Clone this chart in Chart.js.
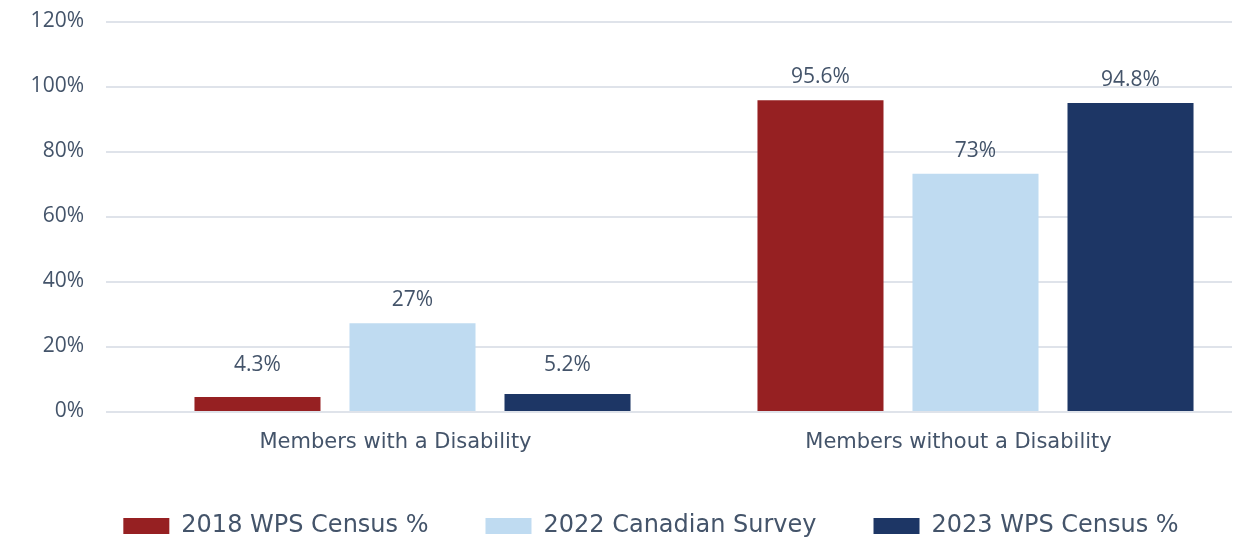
<!DOCTYPE html>
<html>
<head>
<meta charset="utf-8">
<script src="https://cdn.jsdelivr.net/npm/chart.js@4"></script>
<style>
    html, body { margin: 0; padding: 0; background: #fff; }
    #wrap { width: 1244px; height: 538px; overflow: hidden; position: relative; }
    #box { position: absolute; left: 0; top: 0; width: 1302px; height: 548px; }
</style>
</head>
<body>
<div id="wrap"><div id="box"><canvas id="chart"></canvas></div></div>
<script>
// disability share by source
var categories = ['Members with a Disability', 'Members without a Disability'];
var seriesNames = ['2018 WPS Census %', '2022 Canadian Survey', '2023 WPS Census %'];
var census2018 = [4.3, 95.6];
var survey2022 = [27, 73];
var census2023 = [5.2, 94.8];
var yTicks = [0, 20, 40, 60, 80, 100, 120];

var textColor = '#44546a';
var colors = ['#962022', '#bfdbf1', '#1d3665'];

// horizontal gridlines, drawn a bit left of the category band
var gridPlugin = {
    id: 'shiftedGrid',
    beforeDatasetsDraw(chart) {
        var y = chart.scales.y, area = chart.chartArea, ctx = chart.ctx;
        ctx.save();
        ctx.strokeStyle = '#dfe3ea';
        ctx.lineWidth = 2;
        yTicks.forEach(v => {
            var py = Math.round(y.getPixelForValue(v)) + 1;
            ctx.beginPath();
            ctx.moveTo(area.left - 25, py);
            ctx.lineTo(area.right - 25, py);
            ctx.stroke();
        });
        ctx.restore();
    }
};

// value labels above each bar (small bars share one baseline)
var valuePlugin = {
    id: 'valueLabels',
    afterDatasetsDraw(chart) {
        var ctx = chart.ctx, y = chart.scales.y;
        var floor = y.getPixelForValue(7);
        ctx.save();
        ctx.fillStyle = textColor;
        ctx.font = '21px "Open Sans"';
        ctx.textAlign = 'center';
        ctx.textBaseline = 'alphabetic';
        chart.data.datasets.forEach((ds, i) => {
            chart.getDatasetMeta(i).data.forEach((bar, j) => {
                var top = Math.min(bar.y, floor);
                ctx.fillText(ds.data[j] + '%', bar.x, top - 17);
            });
        });
        ctx.restore();
    }
};

var datasets = [census2018, survey2022, census2023].map((vals, i) => ({
    label: seriesNames[i],
    data: vals,
    backgroundColor: colors[i],
    borderWidth: 0,
    barPercentage: 0.813,
    categoryPercentage: 0.826
}));

new Chart(document.getElementById('chart'), {
    type: 'bar',
    data: { labels: categories, datasets: datasets },
    options: {
        responsive: true,
        maintainAspectRatio: false,
        animation: false,
        layout: { padding: { left: 0, right: 0, top: 21, bottom: 0 } },
        plugins: {
            tooltip: { enabled: false },
            legend: {
                position: 'bottom',
                labels: {
                    boxWidth: 46,
                    boxHeight: 16,
                    padding: 57,
                    color: textColor,
                    font: { family: '"DejaVu Sans"', size: 24 }
                }
            }
        },
        scales: {
            x: {
                grid: { display: false, drawTicks: false },
                border: { display: false },
                ticks: {
                    color: textColor,
                    padding: 19,
                    labelOffset: -17,
                    font: { family: '"DejaVu Sans"', size: 21 }
                },
                afterFit(scale) { scale.height = 46; }
            },
            y: {
                min: 0,
                max: 120,
                grid: { display: false, drawTicks: false },
                border: { display: false },
                ticks: {
                    stepSize: 20,
                    color: textColor,
                    padding: 47,
                    font: { family: '"Open Sans"', size: 21 },
                    callback: v => v + '%'
                },
                afterFit(scale) {
                    scale.width = 131;
                    scale.paddingTop = 0;
                    scale.paddingBottom = 0;
                }
            },
            // empty right-hand gutter
            gutter: {
                position: 'right',
                grid: { display: false, drawTicks: false },
                border: { display: false },
                ticks: { display: false },
                afterFit(scale) { scale.width = 45; }
            }
        }
    },
    plugins: [gridPlugin, valuePlugin]
});
</script>
</body>
</html>
